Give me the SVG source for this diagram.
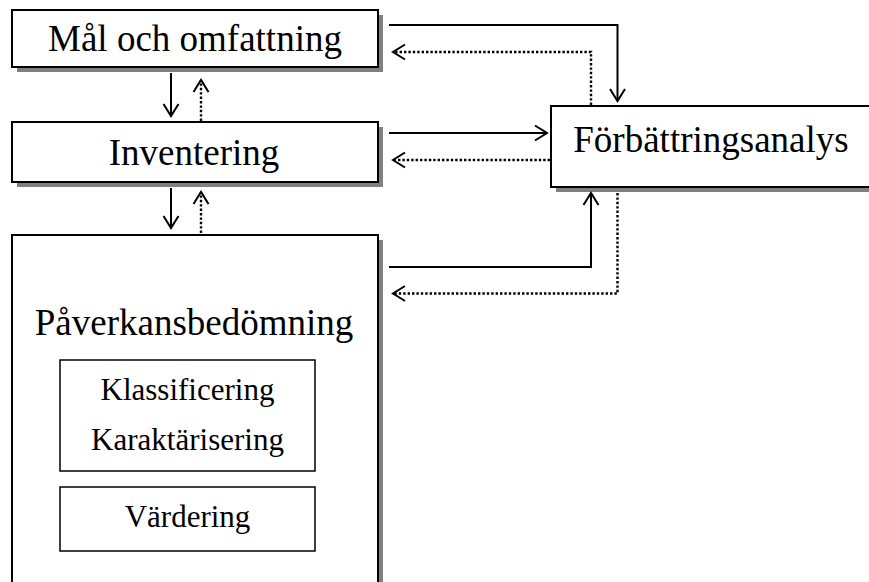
<svg xmlns="http://www.w3.org/2000/svg" width="869" height="582" viewBox="0 0 869 582">
  <defs>
    <style>
      .box { fill: #ffffff; stroke: #000000; stroke-width: 2; }
      .inner { fill: #ffffff; stroke: #000000; stroke-width: 1.5; }
      .shadow { fill: #808080; stroke: none; }
      .lbl { font-family: "Liberation Serif", "Times New Roman", serif; font-size: 37px; fill: #000000; text-anchor: middle; }
      .sub { font-family: "Liberation Serif", "Times New Roman", serif; font-size: 31px; fill: #000000; text-anchor: middle; }
      .solid { fill: none; stroke: #000000; stroke-width: 2; marker-end: url(#head); }
      .dot { fill: none; stroke: #000000; stroke-width: 2.4; stroke-dasharray: 2.4 2; marker-end: url(#head); }
    </style>
    <marker id="head" markerUnits="userSpaceOnUse" markerWidth="20" markerHeight="20" viewBox="-14 -10 16 20" refX="0" refY="0" orient="auto">
      <path d="M -12 -7.5 L 0 0 L -12 7.5" fill="none" stroke="#000000" stroke-width="2" stroke-dasharray="none"/>
    </marker>
  </defs>

  <g id="node-mal">
    <rect class="shadow" x="17" y="15" width="366" height="57"/>
    <rect class="box" x="12" y="10" width="366" height="57"/>
    <text class="lbl" x="195" y="51">Mål och omfattning</text>
  </g>

  <g id="node-inventering">
    <rect class="shadow" x="17" y="127" width="366" height="60"/>
    <rect class="box" x="12" y="122" width="366" height="60"/>
    <text class="lbl" x="194" y="165">Inventering</text>
  </g>

  <g id="node-paverkan">
    <rect class="shadow" x="17" y="240" width="366" height="360"/>
    <rect class="box" x="12" y="235" width="366" height="360"/>
    <text class="lbl" x="194" y="335">Påverkansbedömning</text>
    <g id="node-klassificering">
      <rect class="inner" x="60" y="360" width="255" height="111"/>
      <text class="sub" x="187.5" y="400">Klassificering</text>
      <text class="sub" x="187.5" y="450">Karaktärisering</text>
    </g>
    <g id="node-vardering">
      <rect class="inner" x="60" y="487" width="255" height="64"/>
      <text class="sub" x="187.5" y="527">Värdering</text>
    </g>
  </g>

  <g id="node-forbattring">
    <rect class="shadow" x="556" y="111" width="330" height="81"/>
    <rect class="box" x="551" y="106" width="330" height="81"/>
    <text class="lbl" x="711" y="152">Förbättringsanalys</text>
  </g>

  <g id="connectors">
    <path class="solid" d="M 171 73 L 171 116"/>
    <path class="dot" d="M 201 121 L 201 80"/>
    <path class="solid" d="M 171 188 L 171 228"/>
    <path class="dot" d="M 201 233 L 201 192"/>
    <path class="solid" d="M 389 25 L 617.5 25 L 617.5 101"/>
    <path class="dot" d="M 591 105 L 591 52 L 393 52"/>
    <path class="solid" d="M 389 133 L 547 133"/>
    <path class="dot" d="M 550 160 L 393 160"/>
    <path class="solid" d="M 389 267 L 591 267 L 591 193"/>
    <path class="dot" d="M 617.5 193 L 617.5 293.5 L 393 293.5"/>
  </g>
</svg>
